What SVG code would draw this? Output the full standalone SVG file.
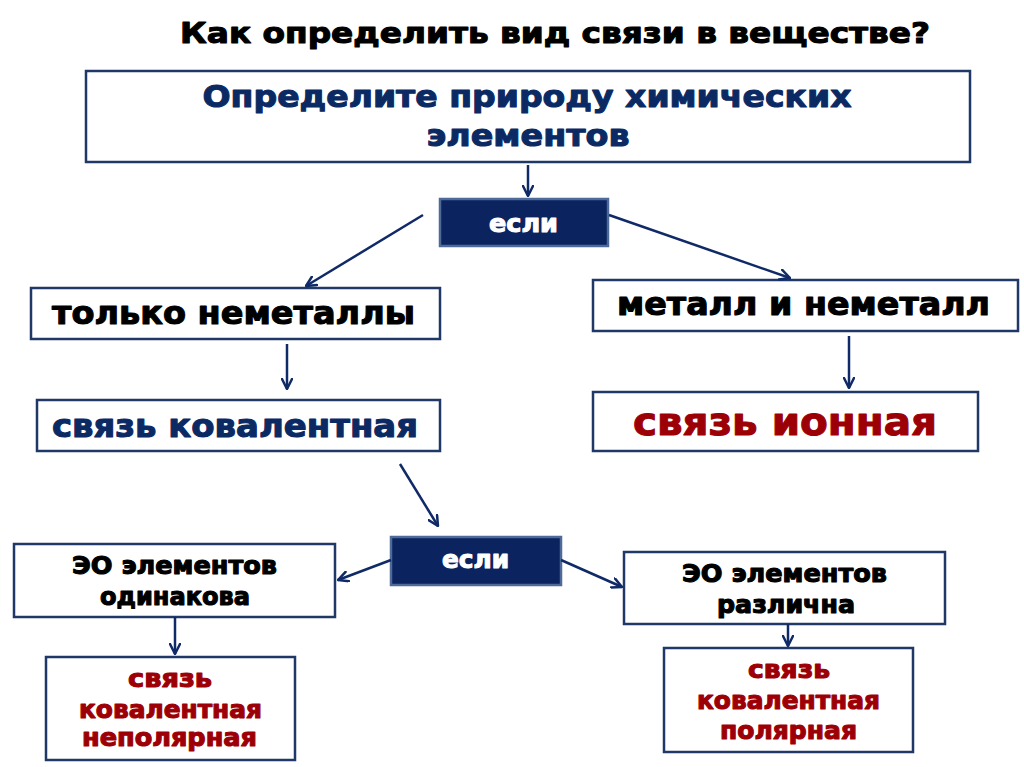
<svg xmlns="http://www.w3.org/2000/svg" width="1024" height="767" viewBox="0 0 1024 767">
<defs>
<style>
.t{font-family:"Arial Black","DejaVu Sans","Liberation Sans",sans-serif;font-weight:bold;text-anchor:middle;stroke-width:1.1;stroke-linejoin:round}
.box{fill:#ffffff;stroke:#1f3868;stroke-width:2.5}
.dark{fill:#0b2460;stroke:#4d6a98;stroke-width:2.5}
.navy{fill:#0b2a63;stroke:#0b2a63}
.blk{fill:#000000;stroke:#000000}
.red{fill:#9c0006;stroke:#9c0006}
.wh{fill:#ffffff;stroke:#ffffff}
.conn line{stroke:#0f2a66;stroke-width:2.5;fill:none;marker-end:url(#ah)}
</style>
<marker id="ah" markerUnits="userSpaceOnUse" viewBox="0 0 12 12" refX="11" refY="6" markerWidth="12" markerHeight="12" orient="auto">
<path d="M1,1 L11,6 L1,11" fill="none" stroke="#0f2a66" stroke-width="2.5" stroke-linecap="round" stroke-linejoin="round"/>
</marker>
</defs>
<rect width="1024" height="767" fill="#ffffff"/>

<g id="title">
<text class="t blk" x="555" y="43" font-size="29" textLength="750" lengthAdjust="spacingAndGlyphs">Как определить вид связи в веществе?</text>
</g>

<g id="n-top">
<rect class="box" x="86" y="71" width="884" height="91"/>
<text class="t navy" x="527" y="107" font-size="31" textLength="649" lengthAdjust="spacingAndGlyphs">Определите природу химических</text>
<text class="t navy" x="528" y="146" font-size="31" textLength="203" lengthAdjust="spacingAndGlyphs">элементов</text>
</g>

<g id="n-if1">
<rect class="dark" x="440" y="199" width="168" height="47"/>
<text class="t wh" x="523.5" y="232" font-size="25" textLength="69" lengthAdjust="spacingAndGlyphs">если</text>
</g>

<g id="n-nonmetal">
<rect class="box" x="31" y="288" width="409" height="51"/>
<text class="t blk" x="233.5" y="324" font-size="32" textLength="363" lengthAdjust="spacingAndGlyphs">только неметаллы</text>
</g>

<g id="n-metal">
<rect class="box" x="593" y="280" width="425" height="51"/>
<text class="t blk" x="803.5" y="315" font-size="32" textLength="373" lengthAdjust="spacingAndGlyphs">металл и неметалл</text>
</g>

<g id="n-covalent">
<rect class="box" x="37" y="400" width="403" height="51"/>
<text class="t navy" x="235" y="437" font-size="32" textLength="366" lengthAdjust="spacingAndGlyphs">связь ковалентная</text>
</g>

<g id="n-ionic">
<rect class="box" x="593" y="392" width="385" height="59"/>
<text class="t red" x="785" y="435" font-size="38" textLength="304" lengthAdjust="spacingAndGlyphs">связь ионная</text>
</g>

<g id="n-if2">
<rect class="dark" x="391" y="537" width="170" height="48"/>
<text class="t wh" x="475.5" y="568" font-size="25" textLength="67" lengthAdjust="spacingAndGlyphs">если</text>
</g>

<g id="n-eo-same">
<rect class="box" x="14" y="544" width="321" height="73"/>
<text class="t blk" x="174.5" y="574" font-size="24" textLength="205" lengthAdjust="spacingAndGlyphs">ЭО элементов</text>
<text class="t blk" x="175" y="605" font-size="24" textLength="150" lengthAdjust="spacingAndGlyphs">одинакова</text>
</g>

<g id="n-eo-diff">
<rect class="box" x="624" y="552" width="321" height="72"/>
<text class="t blk" x="784.5" y="582" font-size="24" textLength="205" lengthAdjust="spacingAndGlyphs">ЭО элементов</text>
<text class="t blk" x="786" y="613" font-size="24" textLength="138" lengthAdjust="spacingAndGlyphs">различна</text>
</g>

<g id="n-nonpolar">
<rect class="box" x="46" y="657" width="249" height="103"/>
<text class="t red" x="170" y="687" font-size="24" textLength="84" lengthAdjust="spacingAndGlyphs">связь</text>
<text class="t red" x="170.5" y="718" font-size="24" textLength="183" lengthAdjust="spacingAndGlyphs">ковалентная</text>
<text class="t red" x="169.5" y="746" font-size="24" textLength="175" lengthAdjust="spacingAndGlyphs">неполярная</text>
</g>

<g id="n-polar">
<rect class="box" x="664" y="648" width="249" height="104"/>
<text class="t red" x="789" y="678" font-size="24" textLength="82" lengthAdjust="spacingAndGlyphs">связь</text>
<text class="t red" x="788.5" y="709" font-size="24" textLength="183" lengthAdjust="spacingAndGlyphs">ковалентная</text>
<text class="t red" x="788.5" y="739" font-size="24" textLength="137" lengthAdjust="spacingAndGlyphs">полярная</text>
</g>

<g id="connectors" class="conn">
<line x1="528" y1="165" x2="528" y2="196"/>
<line x1="423" y1="215" x2="306" y2="286"/>
<line x1="609" y1="215" x2="790" y2="278"/>
<line x1="287" y1="344" x2="287" y2="389"/>
<line x1="849" y1="336" x2="849" y2="388"/>
<line x1="400" y1="464" x2="438" y2="526"/>
<line x1="391" y1="560" x2="338" y2="580"/>
<line x1="561" y1="560" x2="622" y2="587"/>
<line x1="175" y1="617" x2="175" y2="654"/>
<line x1="788" y1="624" x2="788" y2="646"/>
</g>
</svg>
